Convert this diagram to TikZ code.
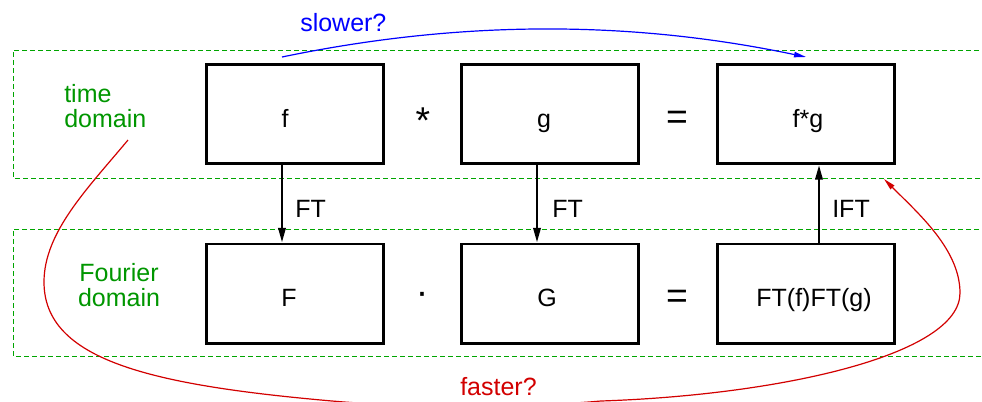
\documentclass[tikz,border=0pt]{standalone}
\usepackage{fontspec}
\setmainfont{Liberation Sans}
\usetikzlibrary{arrows.meta}
\definecolor{tgreen}{RGB}{0,150,0}
\definecolor{dgreen}{RGB}{0,165,0}
\definecolor{cblue}{RGB}{0,0,255}
\definecolor{cred}{RGB}{210,0,0}
\begin{document}
\begin{tikzpicture}[x=0.75pt,y=-0.75pt,
  every node/.style={font=\fontsize{18.75}{18.75}\selectfont, inner sep=0pt},
  box/.style={draw, line width=2pt, minimum width=133pt, minimum height=74.5pt},
  op/.style={font=\fontsize{28}{28}\selectfont},
  lbl/.style={text=tgreen},
  region/.style={draw=dgreen, line width=0.75pt, dash pattern=on 3.5pt off 2.5pt},
  ftarrow/.style={line width=1.8pt, -{Triangle[length=11pt,width=5.5pt]}},
  slowarrow/.style={draw=cblue, line width=0.9pt, -{Triangle[length=9pt,width=4pt]}},
  fastarrow/.style={draw=cred, line width=0.9pt, -{Triangle[length=9pt,width=4pt]}}]
\useasboundingbox (0,0) rectangle (982,401);
\clip (0,0) rectangle (982,401);
% regions
\draw[region] (995,50) -- (13,50) -- (13,178) -- (995,178);
\draw[region] (995,229) -- (13,229) -- (13,356) -- (995,356);
% boxes
\node[box] (f) at (295,114) {};
\node[box] (g) at (550,114) {};
\node[box] (fg) at (806,114) {};
\node[box] (F) at (295,293.5) {};
\node[box] (G) at (550,293.5) {};
\node[box] (FG) at (806,293.5) {};
% box texts
\node[anchor=base] (ft) at (285,127) {f};
\node[anchor=base] (gt) at (544,127) {g};
\node[anchor=base] (fgt) at (808,127) {f*g};
\node[anchor=base] (Ft) at (289,306) {F};
\node[anchor=base] (Gt) at (547,306) {G};
\node[anchor=base] (FGt) at (814,306) {FT(f)FT(g)};
% operators
\node[op, anchor=base] (star) at (423,133) {*};
\node[op, anchor=base] (eq1) at (677,129) {=};
\node[op, anchor=base] (dot) at (422,304) {·};
\node[op, anchor=base] (eq2) at (677,308) {=};
% region labels (base = last line)
\node[lbl, anchor=base west, align=left] (time) at (64,127) {time\\domain};
\node[lbl, anchor=base, align=center] (four) at (119,306) {Fourier\\domain};
% transforms
\draw[ftarrow] ([xshift=-9.75pt]f.south) -- ([xshift=-9.75pt]F.north);
\draw[ftarrow] ([xshift=-9.75pt]g.south) -- ([xshift=-9.75pt]G.north);
\draw[ftarrow] ([xshift=9.75pt]FG.north) -- ([xshift=9.75pt]fg.south);
\node[anchor=base west] (ft1) at (295,217) {FT};
\node[anchor=base west] (ft2) at (552,217) {FT};
\node[anchor=base west] (ift) at (832,217) {IFT};
% slower
\coordinate (s0) at (282,57);
\coordinate (s1) at (806,57);
\draw[slowarrow] (s0) .. controls (460,20) and (630,20) .. (s1);
\node[anchor=base west, text=cblue] (slow) at (300,31) {slower?};
% faster
\coordinate (r0) at (128,140);
\coordinate (r1) at (884,179);
\draw[fastarrow] (r0) .. controls (88,188) and (44,232) .. (44,282)
  .. controls (44,360) and (150,385) .. (332,401)
  .. controls (412,408) and (521,408) .. (601,401)
  .. controls (780,395) and (960,355) .. (960,293)
  .. controls (960,250) and (919,214) .. (r1);
\node[anchor=base west, text=cred] (fast) at (460,395) {faster?};
\end{tikzpicture}
\end{document}
